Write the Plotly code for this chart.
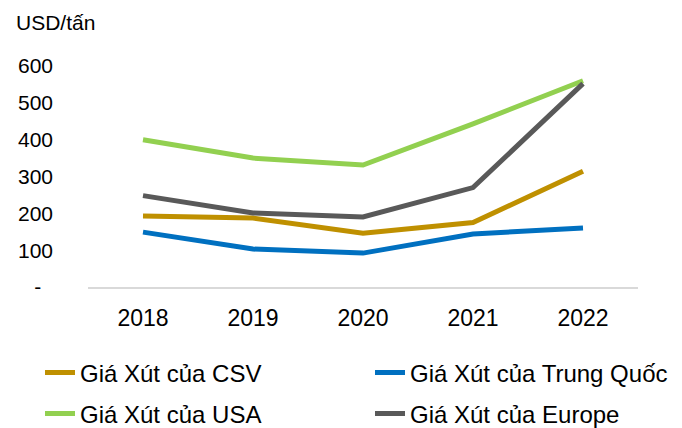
import plotly.graph_objects as go

years = ["2018", "2019", "2020", "2021", "2022"]
csv_price = [193, 187, 146, 175, 314]
china_price = [149, 103, 92, 144, 160]
usa_price = [400, 350, 331, 443, 560]
europe_price = [248, 201, 190, 270, 552]

series_names = ["Giá Xút của CSV", "Giá Xút của Trung Quốc", "Giá Xút của USA", "Giá Xút của Europe"]
series_values = [csv_price, china_price, usa_price, europe_price]
colors = ["#BF9000", "#0070C0", "#92D050", "#595959"]

y_tickvals = [0, 100, 200, 300, 400, 500, 600]
y_ticktext = ["-\u00a0\u00a0", "100", "200", "300", "400", "500", "600"]

# page body has an 8px margin, so figure coords are offset by -8 from screen coords
W, H = 674, 420
L, R, T, B = 80, 44, 58, 141
pw, ph = W - L - R, H - T - B

legend_ids = ["legend", "legend2", "legend3", "legend4"]
legend_pos = [(32, 365), (362, 365), (32, 406), (362, 406)]

fig = go.Figure()
for name, vals, col, lid in zip(series_names, series_values, colors, legend_ids):
    fig.add_trace(go.Scatter(x=years, y=vals, name=name, mode="lines",
                             line=dict(color=col, width=5), legend=lid))

layout_legends = {}
for lid, (lx, ly) in zip(legend_ids, legend_pos):
    layout_legends[lid] = dict(xref="container", yref="container",
                               x=lx / W, y=1 - ly / H, xanchor="left", yanchor="middle",
                               font=dict(size=24), itemwidth=30, bgcolor="rgba(0,0,0,0)")

fig.update_layout(
    width=W, height=H,
    margin=dict(l=L, r=R, t=T, b=B, autoexpand=False),
    paper_bgcolor="white", plot_bgcolor="white",
    font=dict(family="Liberation Sans, Arial, sans-serif", color="#000000", size=21),
    showlegend=True,
    xaxis=dict(type="category", range=[-0.5, 4.5], showgrid=False, zeroline=False,
               showline=True, linecolor="#D9D9D9", linewidth=2,
               ticks="", ticklabelstandoff=9, tickfont=dict(size=23)),
    yaxis=dict(range=[0, 600], tickvals=y_tickvals, ticktext=y_ticktext,
               showgrid=False, zeroline=False, showline=False, ticks="",
               ticklabelstandoff=34, tickfont=dict(size=21)),
    annotations=[dict(text="USD/tấn", xref="paper", yref="paper",
                      x=(6 - L) / pw, y=(H - B - 14.5) / ph, xanchor="left", yanchor="middle",
                      showarrow=False, font=dict(size=21))],
    **layout_legends,
)

fig.write_html("out.html")
